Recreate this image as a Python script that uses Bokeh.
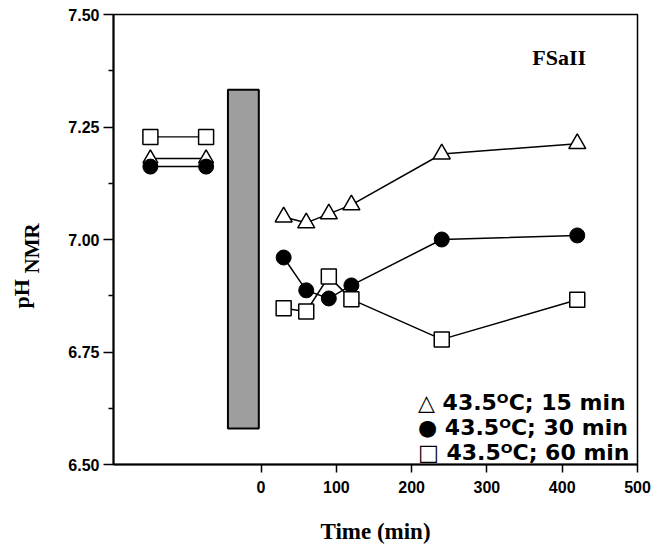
import math
from bokeh.plotting import figure
from bokeh.layouts import row
from bokeh.models import Range1d, FixedTicker, Label, Legend, LegendItem
from bokeh.core.properties import value
from bokeh.embed import file_html
from bokeh.resources import INLINE

# ---- data ----
pre_time = [-147, -73]
post_time = [30, 60, 90, 120, 240, 420]

tri_pre = [7.18, 7.18]
circ_pre = [7.162, 7.162]
sq_pre = [7.228, 7.228]

tri_post = [7.05, 7.037, 7.057, 7.077, 7.19, 7.213]
circ_post = [6.96, 6.887, 6.869, 6.898, 7.0, 7.009]
sq_post = [6.847, 6.84, 6.918, 6.867, 6.778, 6.866]

heat_start = [-44]
heat_end = [-3]
heat_bottom = [6.58]
heat_top = [7.333]

x_ticks = [0, 100, 200, 300, 400, 500]
y_ticks = [6.50, 6.75, 7.00, 7.25, 7.50]
y_minor = [6.625, 6.875, 7.125, 7.375]

series_labels = ["\u25b3 43.5\u1d3cC; 15 min", "\u25cf 43.5\u1d3cC; 30 min", "\u25a1 43.5\u1d3cC; 60 min"]

LAB_W = 58
H = 548

# ---- narrow panel carrying the rotated y-axis title (pH with subscript NMR) ----
lab = figure(width=LAB_W, height=H, output_backend="svg", toolbar_location=None, title=None,
             x_axis_type=None, y_axis_type=None,
             x_range=Range1d(0, LAB_W), y_range=Range1d(0, H),
             min_border_left=0, min_border_right=0, min_border_top=0, min_border_bottom=0)
lab.frame_align = False
lab.grid.visible = False
lab.outline_line_color = None
lab.background_fill_color = "white"
lab.border_fill_color = "white"
lab.text(x=[21], y=[H - 308], text=["pH"], angle=math.pi / 2, text_align="left", text_baseline="alphabetic",
         text_font=value("Liberation Serif"), text_font_style="bold", text_font_size="22px", text_color="black")
lab.text(x=[31], y=[H - 273], text=["NMR"], angle=math.pi / 2, text_align="left", text_baseline="alphabetic",
         text_font=value("Liberation Serif"), text_font_style="bold", text_font_size="21px", text_color="black")

# ---- main plot ----
p = figure(width=655 - LAB_W, height=H, output_backend="svg", toolbar_location=None,
           x_range=Range1d(-196, 500), y_range=Range1d(6.5, 7.5),
           min_border_left=113 - LAB_W, min_border_right=18, min_border_top=14, min_border_bottom=84)
p.frame_align = False

p.background_fill_color = "white"
p.border_fill_color = "white"
p.outline_line_color = "black"
p.outline_line_width = 1.5
p.xgrid.visible = False
p.ygrid.visible = False

# axes
p.xaxis.ticker = FixedTicker(ticks=x_ticks)
p.xaxis.major_tick_out = 8
p.xaxis.major_tick_in = 0
p.xaxis.minor_tick_out = 0
p.xaxis.axis_line_width = 2
p.xaxis.major_tick_line_width = 1.5
p.xaxis.major_label_text_font = "Liberation Sans"
p.xaxis.major_label_text_font_style = "bold"
p.xaxis.major_label_text_font_size = "16px"
p.xaxis.major_label_text_color = "black"
p.xaxis.major_label_standoff = 8
p.xaxis.axis_label = "Time (min)"
p.xaxis.axis_label_text_font = "Liberation Serif"
p.xaxis.axis_label_text_font_style = "bold"
p.xaxis.axis_label_text_font_size = "23px"
p.xaxis.axis_label_text_color = "black"
p.xaxis.axis_label_standoff = 23

p.yaxis.ticker = FixedTicker(ticks=y_ticks, minor_ticks=y_minor)
p.yaxis.major_tick_out = 10
p.yaxis.major_tick_in = 0
p.yaxis.minor_tick_out = 5
p.yaxis.minor_tick_in = 0
p.yaxis.axis_line_width = 2
p.yaxis.major_tick_line_width = 1.5
p.yaxis.minor_tick_line_width = 1.5
p.yaxis.major_label_overrides = {v: f"{v:.2f}" for v in y_ticks}
p.yaxis.major_label_text_font = "Liberation Sans"
p.yaxis.major_label_text_font_style = "bold"
p.yaxis.major_label_text_font_size = "16px"
p.yaxis.major_label_text_color = "black"
p.yaxis.major_label_standoff = 4

# heating bar
p.quad(left=heat_start, right=heat_end, bottom=heat_bottom, top=heat_top,
       fill_color="#9e9e9e", line_color="black", line_width=2)

# pre-treatment lines
p.line(pre_time, sq_pre, line_color="black", line_width=1.2)
p.line(pre_time, tri_pre, line_color="black", line_width=1.5)
p.line(pre_time, circ_pre, line_color="black", line_width=1.5)

# post lines
p.line(post_time, tri_post, line_color="black", line_width=1.5)
p.line(post_time, circ_post, line_color="black", line_width=1.5)
p.line(post_time, sq_post, line_color="black", line_width=1.5)

msz = 15
p.scatter(pre_time, sq_pre, marker="square", size=msz, fill_color="white", line_color="black", line_width=1.5)
p.scatter(pre_time, tri_pre, marker="triangle", size=msz, fill_color="white", line_color="black", line_width=1.5)
p.scatter(pre_time, circ_pre, marker="circle", size=msz, fill_color="black", line_color="black")

rt = p.scatter(post_time, tri_post, marker="triangle", size=17, fill_color="white", line_color="black", line_width=1.5)
rc = p.scatter(post_time, circ_post, marker="circle", size=msz, fill_color="black", line_color="black")
rs = p.scatter(post_time, sq_post, marker="square", size=msz, fill_color="white", line_color="black", line_width=1.5)

legend = Legend(items=[LegendItem(label=series_labels[0], renderers=[rt]),
                       LegendItem(label=series_labels[1], renderers=[rc]),
                       LegendItem(label=series_labels[2], renderers=[rs])],
                location=(305, -1), margin=0, padding=0, spacing=0,
                glyph_width=0, glyph_height=25, label_height=25, label_standoff=0,
                border_line_color=None, background_fill_alpha=0,
                label_text_font="DejaVu Sans", label_text_font_style="bold",
                label_text_font_size="22px", label_text_color="black")
p.add_layout(legend)

# panel label
p.add_layout(Label(x=396, y=7.404, text="FSaII", text_font="Liberation Serif", text_font_style="bold",
                   text_font_size="22px", text_align="center", text_baseline="middle", text_color="black"))

open("out.html", "w").write(file_html(row(lab, p), INLINE))
